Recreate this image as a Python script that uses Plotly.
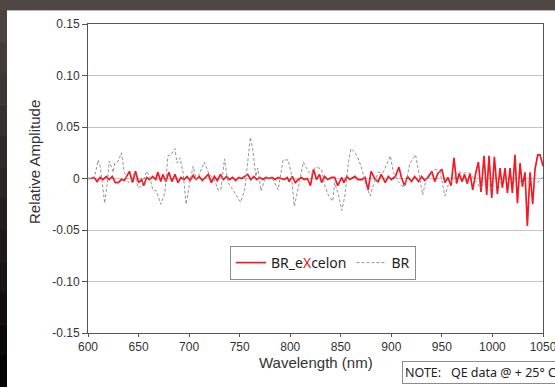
import plotly.graph_objects as go

# ---------------- data ----------------
excelon_wl = [600, 603, 606, 609, 612, 615, 618, 621, 624, 627, 630, 633, 636, 639, 641, 644, 647, 650, 653, 655,
              658, 661, 664, 667, 669, 672, 674, 677, 680, 683, 686, 689, 692, 695, 698, 701, 704, 707, 710, 713,
              716, 719, 722, 725, 728, 731, 734, 737, 740, 743, 746, 749, 752, 755, 758, 761, 764, 767, 770, 773,
              776, 779, 782, 785, 788, 791, 794, 797, 799, 802, 805, 808, 811, 814, 817, 820, 823, 826, 829, 831,
              834, 837, 841, 844, 847, 851, 853, 856, 859, 864, 867, 871, 874, 877, 880, 884, 887, 890, 894, 897,
              900, 904, 907.5, 910, 913, 916, 920, 923, 927, 930, 933, 937, 940, 943, 946, 950, 953, 956, 959, 962,
              964.6, 967, 970, 972.5, 975, 977.8, 980.5, 983.4, 986.1, 988.7, 991.7, 994.3, 996.6, 999.3, 1001.9,
              1004.9, 1007.5, 1009.8, 1012.5, 1014.8, 1017.4, 1019.7, 1022.3, 1024.7, 1027.3, 1029.6, 1032.2,
              1034.5, 1037.2, 1039.8, 1042.1, 1044.8, 1047.1, 1050]
excelon_val = [0.000, 0.000, 0.001, -0.003, 0.001, -0.001, 0.002, -0.001, 0.002, -0.004, -0.004, -0.001, -0.002, 0.003,
               0.007, -0.004, 0.007, -0.004, -0.001, -0.007, 0.001, -0.001, 0.002, -0.001, 0.006, -0.003, 0.004,
               -0.003, 0.006, -0.003, 0.004, -0.004, 0.001, -0.001, 0.002, -0.002, 0.003, -0.001, 0.002, -0.002,
               0.001, 0.004, -0.004, 0.002, -0.002, 0.004, -0.001, 0.002, -0.001, 0.001, -0.002, 0.001, 0.000, 0.002,
               0.004, -0.001, 0.002, -0.001, 0.001, -0.001, 0.001, 0.000, 0.001, -0.001, 0.001, 0.000, -0.001, 0.001,
               -0.003, 0.002, -0.004, -0.001, 0.001, -0.001, 0.000, -0.007, 0.009, -0.001, 0.004, -0.004, 0.002,
               -0.001, 0.001, 0.001, -0.007, 0.001, -0.004, 0.002, -0.001, 0.002, -0.001, -0.001, 0.001, -0.011,
               0.007, -0.001, -0.003, 0.004, -0.004, 0.002, -0.001, 0.002, 0.011, 0.001, -0.007, 0.002, -0.003,
               0.002, -0.003, 0.002, -0.002, 0.002, 0.007, -0.003, 0.005, 0.009, -0.004, 0.001, -0.007, 0.020,
               -0.005, 0.005, -0.003, 0.004, -0.005, 0.005, -0.011, 0.005, 0.016, -0.013, 0.022, -0.016, 0.022,
               -0.019, 0.021, -0.015, 0.010, -0.009, 0.010, -0.014, 0.010, -0.014, 0.023, -0.024, 0.015, -0.008,
               0.006, -0.046, 0.006, -0.025, 0.009, 0.023, 0.023, 0.012]

br_wl = [600, 606, 608, 610, 612, 614, 616.5, 619, 621, 623, 625, 626.5, 630, 633, 636, 640, 643, 646, 649.5, 653,
         658, 661, 664, 667.6, 672, 676, 679, 682, 686, 688, 691, 694, 697, 700.6, 704, 707, 710, 715, 719, 722,
         725, 728.6, 731.5, 735, 738.5, 742, 747, 751, 755, 758, 760.6, 763, 766, 768, 771, 775, 780, 783, 788,
         793, 798, 801, 804, 808, 813, 817.6, 821, 824, 826, 831, 834, 838, 842, 844, 848, 851, 854, 857.5, 860,
         864, 867, 871, 874, 879, 882, 887, 892, 899, 902, 907, 912, 915, 918.5, 924, 927, 931, 935, 939, 943,
         948, 953, 956, 961, 966, 971, 976, 981, 988, 994, 999, 1004, 1011, 1017, 1024, 1030, 1037, 1044, 1050]
br_val = [0.000, 0.000, 0.008, 0.018, 0.012, -0.005, -0.024, -0.005, 0.017, 0.012, 0.006, 0.015, 0.017, 0.025,
          0.006, -0.004, -0.001, 0.006, -0.009, -0.007, 0.007, 0.002, -0.011, -0.012, -0.025, -0.014, 0.022,
          0.023, 0.029, 0.015, 0.020, 0.006, -0.025, -0.004, 0.012, -0.001, 0.004, 0.016, 0.006, 0.002, -0.001,
          -0.011, -0.011, 0.019, -0.004, -0.009, -0.017, -0.023, -0.011, 0.015, 0.040, 0.028, 0.002, 0.010,
          -0.012, -0.001, 0.001, -0.001, -0.011, 0.018, 0.018, 0.005, -0.027, -0.009, 0.016, 0.007, 0.004, 0.010,
          0.011, 0.009, -0.006, -0.017, -0.022, -0.004, -0.017, -0.031, -0.017, 0.015, 0.029, 0.025, 0.020,
          0.009, -0.004, -0.017, -0.007, 0.006, 0.006, 0.022, 0.006, -0.003, -0.009, -0.001, 0.015, 0.023, 0.006,
          -0.016, 0.002, 0.006, 0.009, 0.007, -0.017, -0.007, -0.001, 0.007, 0.005, 0.006, 0.001, -0.009, -0.004,
          -0.009, -0.007, -0.001, -0.003, -0.001, -0.004, -0.003, -0.004, 0.001]

x_ticks = [600, 650, 700, 750, 800, 850, 900, 950, 1000, 1050]
y_ticks = [-0.15, -0.10, -0.05, 0, 0.05, 0.10, 0.15]
y_tick_labels = ["-0.15", "-0.10", "-0.05", "0", "0.05", "0.10", "0.15"]

# ---------------- layout geometry ----------------
W, H = 555, 387
ML, MR, MT, MB = 88, 12, 24, 54
PW, PH = W - ML - MR, H - MT - MB


def px_x(X):
    return (X - ML) / PW


def px_y(Y):
    return (H - MB - Y) / PH


fig = go.Figure()

fig.add_trace(go.Scatter(
    x=excelon_wl, y=excelon_val, mode="lines",
    name='BR_e<span style="color:#e8141c">X</span>celon',
    line=dict(color="#ee1c25", width=1.7),
))
fig.add_trace(go.Scatter(
    x=br_wl, y=br_val, mode="lines", name="BR",
    line=dict(color="#949494", width=1, dash="3px,2px"),
))

shapes = []
# dark frame: top band and left gradient strip (page background is white)
shapes.append(dict(type="rect", xref="paper", yref="paper", layer="below",
                   x0=px_x(-2), x1=px_x(W + 2), y0=px_y(10), y1=px_y(-2),
                   fillcolor="#4f4743", line=dict(width=0)))
n_bands = 12
top_rgb = (0x4c, 0x42, 0x3e)
bot_rgb = (0x04, 0x03, 0x03)
for i in range(n_bands):
    t = i / (n_bands - 1)
    c = tuple(int(top_rgb[k] + (bot_rgb[k] - top_rgb[k]) * t) for k in range(3))
    y0 = 10 + (H - 10) * i / n_bands
    y1 = 10 + (H - 10) * (i + 1) / n_bands
    shapes.append(dict(type="rect", xref="paper", yref="paper", layer="below",
                       x0=px_x(-2), x1=px_x(7), y0=px_y(y1 + 0.5), y1=px_y(y0),
                       fillcolor="rgb(%d,%d,%d)" % c, line=dict(width=0)))
shapes.append(dict(type="line", xref="paper", yref="paper", layer="below",
                   x0=px_x(7), x1=px_x(W + 2), y0=px_y(10.5), y1=px_y(10.5),
                   line=dict(color="#b8b4b2", width=1)))

title_font = dict(family="Liberation Sans, Arial", size=15, color="#333")

fig.update_layout(
    width=W, height=H,
    margin=dict(l=ML, r=MR, t=MT, b=MB, pad=0, autoexpand=False),
    paper_bgcolor="white",
    plot_bgcolor="white",
    hovermode=False,
    shapes=shapes,
    showlegend=True,
    legend=dict(
        orientation="h", x=px_x(323), y=px_y(246), xanchor="center", yanchor="top",
        bgcolor="white", bordercolor="#8c8c8c", borderwidth=1,
        font=dict(family="Noto Sans", size=14, color="#1e1e1e"),
        itemwidth=30, tracegroupgap=0,
    ),
    annotations=[
        dict(text="NOTE:   QE data @ + 25° C",
             xref="paper", yref="paper", x=px_x(402), y=px_y(372),
             xanchor="left", yanchor="middle", showarrow=False,
             font=dict(family="Noto Sans", size=12.5, color="#222"),
             bordercolor="#8c8c8c", borderwidth=1, borderpad=2, bgcolor="white"),
        dict(text="Wavelength (nm)", xref="paper", yref="paper",
             x=0.5, y=px_y(362), xanchor="center", yanchor="middle",
             showarrow=False, font=title_font),
        dict(text="Relative Amplitude", xref="paper", yref="paper",
             x=px_x(34), y=px_y(162), xanchor="center", yanchor="middle",
             textangle=-90, showarrow=False, font=title_font),
    ],
)

fig.update_xaxes(
    range=[600, 1050], tickvals=x_ticks, ticktext=[str(v) for v in x_ticks],
    showgrid=False, zeroline=False, automargin=False, ticklabeloverflow="allow",
    showline=True, linecolor="#555555", linewidth=1, mirror=True,
    ticks="outside", ticklen=3, tickcolor="#555555",
    tickfont=dict(family="Liberation Sans, Arial", size=12, color="#333"),
)
fig.update_yaxes(
    range=[-0.15, 0.15], tickvals=y_ticks, ticktext=y_tick_labels,
    showgrid=True, gridcolor="#c4c4c4", gridwidth=1, zeroline=False, automargin=False,
    showline=True, linecolor="#555555", linewidth=1, mirror=True,
    ticks="outside", ticklen=5, tickcolor="#555555",
    tickfont=dict(family="Liberation Sans, Arial", size=12, color="#333"),
)

fig.write_html(
    "out.html", config={"displayModeBar": False, "staticPlot": True},
    post_script=("document.documentElement.style.overflow='hidden';"
                 "document.body.style.margin='0';document.body.style.overflow='hidden';"
                 "window.scrollTo(0,0);"),
)
